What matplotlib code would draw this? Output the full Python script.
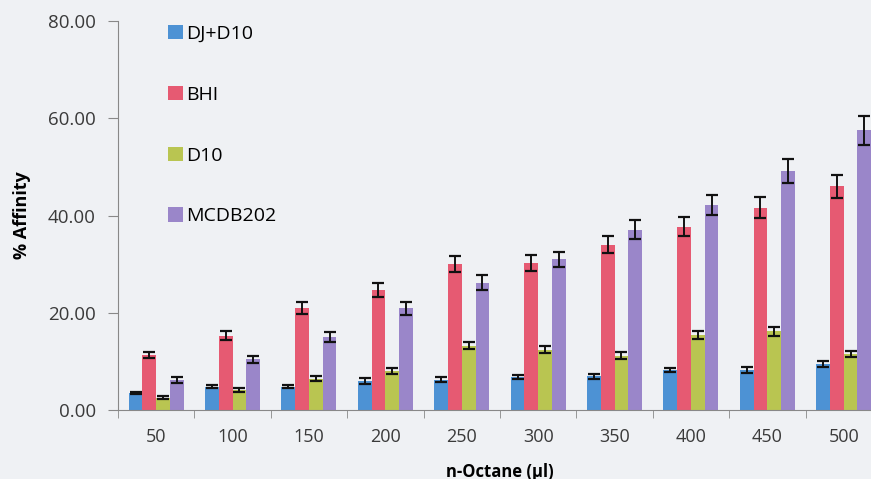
import numpy as np
import matplotlib.pyplot as plt

# n-octane volumes (ul)
volumes = ["50", "100", "150", "200", "250", "300", "350", "400", "450", "500"]

# % affinity per medium
dj_d10 = [3.5, 4.8, 4.8, 6.0, 6.2, 6.8, 6.9, 8.3, 8.3, 9.4]
bhi = [11.4, 15.3, 21.0, 24.7, 30.0, 30.2, 34.0, 37.7, 41.6, 46.0]
d10 = [2.5, 4.1, 6.4, 8.0, 13.2, 12.4, 11.2, 15.4, 16.2, 11.5]
mcdb202 = [6.1, 10.4, 15.0, 20.9, 26.2, 31.0, 37.1, 42.2, 49.2, 57.5]

dj_d10_err = [0.3, 0.3, 0.3, 0.6, 0.5, 0.4, 0.5, 0.4, 0.6, 0.6]
bhi_err = [0.6, 1.0, 1.3, 1.4, 1.6, 1.6, 1.8, 2.0, 2.2, 2.3]
d10_err = [0.3, 0.4, 0.5, 0.6, 0.7, 0.7, 0.65, 0.85, 0.9, 0.6]
mcdb202_err = [0.6, 0.75, 1.1, 1.3, 1.5, 1.6, 2.0, 2.1, 2.5, 3.0]

labels = ["DJ+D10", "BHI", "D10", "MCDB202"]
colors = ["#4d92d4", "#e65a72", "#b9c551", "#9a86c9"]

plt.rcParams['font.family'] = ['Open Sans', 'DejaVu Sans']

fig = plt.figure(figsize=(8.71, 4.79), dpi=100)
fig.patch.set_facecolor("#eff1f4")
ax = fig.add_axes([0.1355, 0.144, 0.877, 0.812])
ax.set_facecolor("#eff1f4")

x = np.arange(len(volumes))
w = 0.18
series = [dj_d10, bhi, d10, mcdb202]
errs = [dj_d10_err, bhi_err, d10_err, mcdb202_err]
for i, (vals, err) in enumerate(zip(series, errs)):
    ax.bar(x + (i - 1.5) * w, vals, w, color=colors[i], label=labels[i],
           yerr=err, error_kw=dict(ecolor="#111111", elinewidth=1.4,
                                   capsize=4, capthick=1.6))

ax.set_xlim(-0.5, len(volumes) - 0.5)
ax.set_ylim(0, 80)
ax.set_yticks([0, 20, 40, 60, 80])
ax.set_yticklabels(["0.00", "20.00", "40.00", "60.00", "80.00"])
ax.set_xticks(x)
ax.set_xticklabels(volumes)
ax.set_xticks(np.arange(len(volumes) + 1) - 0.5, minor=True)
ax.tick_params(axis="x", which="major", length=0, pad=13, labelsize=13,
               labelcolor="#3a3a3a")
ax.tick_params(axis="x", which="minor", length=6, color="#888888")
ax.tick_params(axis="y", length=7, color="#888888", labelsize=13.5,
               labelcolor="#3a3a3a", pad=9)

for s in ["top", "right"]:
    ax.spines[s].set_visible(False)
for s in ["left", "bottom"]:
    ax.spines[s].set_color("#888888")

ax.set_xlabel("n-Octane (µl)", fontsize=12, fontweight="bold", labelpad=12)
ax.set_ylabel("% Affinity", fontsize=13, fontweight="bold", labelpad=12)

ax.legend(loc="upper left", bbox_to_anchor=(0.043, 1.035), frameon=False,
          fontsize=14, labelspacing=2.2, handlelength=0.75, handleheight=0.75,
          handletextpad=0.15)

fig.savefig("out.png", dpi=100, facecolor=fig.get_facecolor())
